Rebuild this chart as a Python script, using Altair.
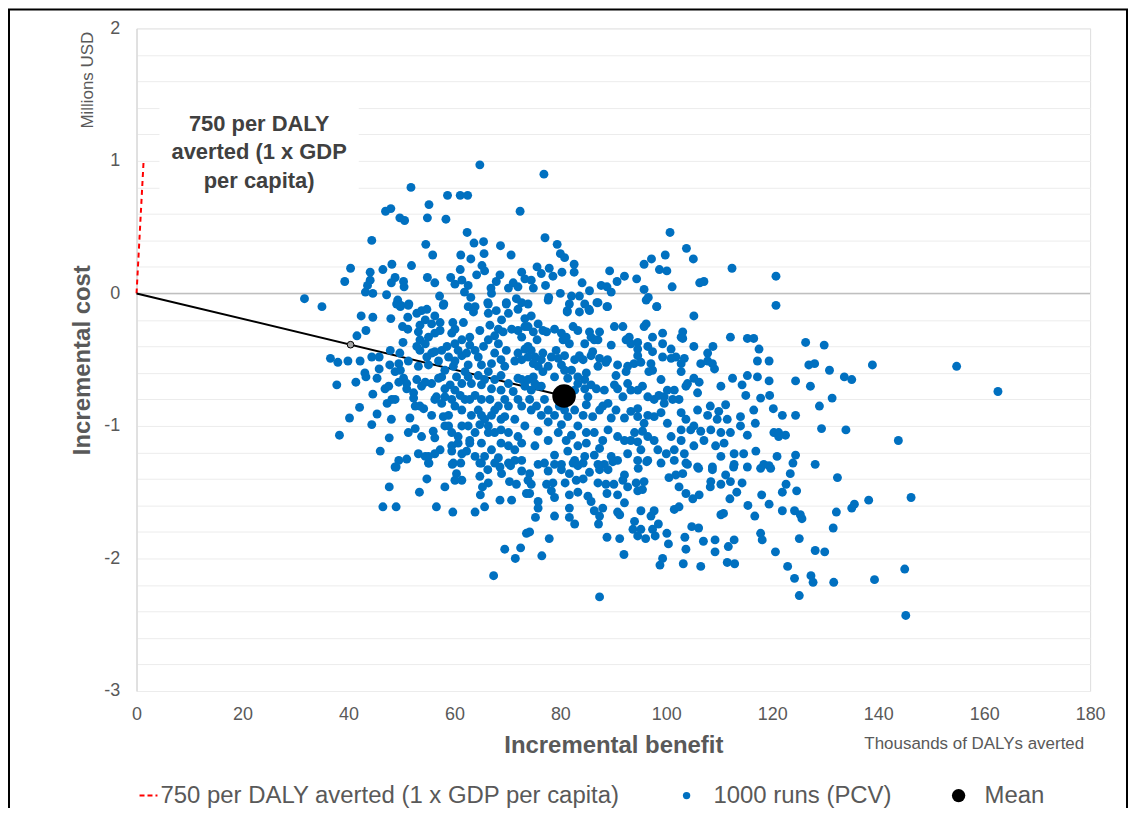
import altair as alt
import pandas as pd

# ---- data (benefit: thousands of DALYs averted, cost: millions USD) ----
runs_points = [
    # upper band
    [64.8, 0.97], [51.8, 0.80], [58.7, 0.74], [61.1, 0.74], [62.5, 0.74], [55.2, 0.67], [47.0, 0.62],
    [48.0, 0.64], [54.9, 0.57], [58.4, 0.56], [49.7, 0.57], [50.6, 0.55], [72.4, 0.62], [62.4, 0.46],
    [44.4, 0.40], [54.6, 0.37], [55.9, 0.29], [63.7, 0.38], [65.5, 0.39], [68.7, 0.36], [65.6, 0.30],
    [61.2, 0.29], [63.1, 0.26], [70.7, 0.29], [40.4, 0.19], [39.3, 0.09], [44.1, 0.16], [46.5, 0.18],
    [48.2, 0.22], [51.9, 0.21], [48.8, 0.12], [48.1, 0.08], [50.4, 0.09], [50.5, 0.05], [44.1, 0.10],
    [43.6, 0.06], [43.2, 0.01], [44.6, 0.00], [47.2, -0.01], [54.9, 0.12], [56.3, 0.08], [61.1, 0.18],
    [64.2, 0.14], [65.2, 0.21], [65.7, 0.17], [59.3, 0.12], [60.1, 0.07], [61.4, 0.10], [62.6, 0.06],
    [61.9, 0.01], [68.6, 0.14], [67.9, 0.09], [66.9, 0.04], [67.0, 0.00], [70.2, 0.04], [71.1, 0.08],
    [72.0, 0.05], [72.7, 0.16], [73.3, 0.11], [31.7, -0.04], [35.0, -0.10], [49.3, -0.05], [49.9, -0.09],
    [51.4, -0.08], [57.2, -0.02], [58.0, -0.08], [63.1, -0.03], [66.3, -0.07], [69.8, -0.07], [71.7, -0.04],
    [76.9, 0.90], [77.1, 0.42], [79.4, 0.37], [80.0, 0.30], [80.8, 0.27], [82.6, 0.22], [82.6, 0.16],
    [75.6, 0.20], [77.9, 0.19], [76.4, 0.15], [78.6, 0.13], [80.3, 0.16], [74.5, 0.10], [74.9, 0.04],
    [77.2, 0.06], [77.8, -0.03], [80.0, 0.00], [82.1, -0.02], [83.6, -0.02], [84.1, 0.08], [85.5, 0.02],
    [86.9, -0.07], [87.7, 0.06], [88.8, 0.05], [89.6, 0.01], [89.3, 0.17], [90.7, 0.09], [92.1, 0.13],
    [88.8, -0.10], [85.4, -0.12], [81.3, -0.13], [94.4, 0.11], [95.8, 0.22], [97.2, 0.26], [95.8, 0.03],
    [96.6, -0.03], [98.2, -0.10], [98.7, 0.18], [100.1, 0.17], [99.8, 0.29], [100.7, 0.46], [101.1, 0.05],
    [103.8, 0.34], [105.1, 0.26], [106.3, 0.08], [107.1, 0.09], [112.4, 0.19], [120.7, 0.13], [120.7, -0.09],
    # right side
    [126.3, -0.37], [129.8, -0.39], [119.4, -0.51], [126.9, -0.54], [128.0, -0.53], [130.8, -0.58],
    [138.9, -0.54], [154.8, -0.55], [162.6, -0.74], [119.4, -0.66], [124.4, -0.66], [127.2, -0.70],
    [133.6, -0.63], [135.0, -0.65], [119.5, -0.77], [131.3, -0.79], [128.9, -0.85], [120.2, -0.87],
    [121.9, -0.92], [124.4, -0.92], [129.3, -1.02], [133.9, -1.03], [143.8, -1.11], [120.3, -1.05],
    [121.2, -1.05], [122.5, -1.07], [121.2, -1.08], [120.9, -1.23], [124.4, -1.22], [123.9, -1.28],
    [128.1, -1.29], [119.4, -1.30],
    # left-centre
    [42.4, -0.17], [44.6, -0.18], [43.3, -0.28], [41.6, -0.32], [48.0, -0.19], [50.2, -0.25], [51.2, -0.27],
    [49.1, -0.08], [51.3, -0.09], [51.2, -0.18], [53.8, -0.13], [54.5, -0.20], [56.3, -0.17], [57.3, -0.22],
    [57.9, -0.09], [59.7, -0.22], [61.7, -0.22], [62.6, -0.10], [63.6, -0.14], [66.4, -0.08], [66.4, -0.15],
    [67.9, -0.13], [66.7, -0.24], [68.3, -0.27], [70.2, -0.15], [72.0, -0.12], [73.3, -0.19], [70.8, -0.27],
    [72.7, -0.33], [50.3, -0.37], [47.9, -0.43], [49.7, -0.45], [53.5, -0.35], [55.1, -0.33], [53.5, -0.43],
    [55.7, -0.45], [57.3, -0.28], [59.5, -0.30], [61.4, -0.35], [62.9, -0.39], [60.1, -0.38], [57.6, -0.43],
    [58.9, -0.48], [61.4, -0.47], [64.5, -0.48], [66.4, -0.35], [68.3, -0.38], [67.0, -0.53], [69.8, -0.43],
    [72.0, -0.45], [73.3, -0.42], [36.6, -0.49], [38.0, -0.52], [39.9, -0.51], [42.2, -0.51], [44.4, -0.48],
    [45.8, -0.48], [45.8, -0.57], [43.1, -0.60], [43.3, -0.63], [37.8, -0.69], [41.4, -0.67], [45.4, -0.64],
    [47.8, -0.54], [49.5, -0.53], [49.8, -0.58], [50.4, -0.64], [53.2, -0.55], [55.1, -0.54], [52.9, -0.65],
    [54.5, -0.67], [51.0, -0.72], [46.9, -0.72], [44.6, -0.76], [47.6, -0.70], [52.3, -0.75], [57.0, -0.64],
    [58.2, -0.58], [59.8, -0.55], [60.4, -0.63], [62.0, -0.59], [63.2, -0.68], [65.1, -0.69], [66.4, -0.59],
    [67.6, -0.65], [68.8, -0.62], [70.2, -0.68], [72.0, -0.64], [73.3, -0.70], [58.2, -0.72], [60.1, -0.73],
    [56.3, -0.80], [57.6, -0.83], [59.5, -0.80], [62.0, -0.80], [63.9, -0.77], [48.2, -0.80], [47.3, -0.83],
    [48.8, -0.80], [42.1, -0.86], [45.4, -0.91], [40.2, -0.94], [44.4, -0.99], [48.1, -0.95], [51.6, -0.94],
    [52.6, -0.85], [54.2, -0.87], [55.7, -0.92], [57.9, -0.93], [52.6, -1.02], [51.3, -1.05], [53.8, -1.08],
    [56.0, -1.04], [58.9, -1.00], [59.5, -1.05], [61.4, -1.00], [63.2, -0.92], [64.5, -0.88], [65.7, -0.95],
    [67.6, -0.88], [69.5, -0.80], [69.5, -0.93], [71.4, -0.95], [72.7, -0.85], [73.3, -1.00], [68.8, -1.03],
    [66.4, -1.05], [63.9, -1.05], [38.3, -1.07], [47.7, -1.09], [46.0, -1.19], [49.5, -1.26], [51.0, -1.25],
    [48.8, -1.31], [53.2, -1.21], [55.1, -1.23], [55.1, -1.28], [57.3, -1.18], [59.5, -1.15], [60.7, -1.13],
    [61.4, -1.21], [59.8, -1.28], [62.9, -1.13], [63.9, -1.23], [65.1, -1.28], [67.0, -1.18], [68.3, -1.24],
    [70.2, -1.28], [71.4, -1.18], [72.7, -1.26], [72.7, -1.13],
    [52.9, -0.15], [54.8, -0.12], [49.8, -0.10], [63.9, -0.10], [68.9, -0.20], [72.7, -0.07], [69.8, -0.08],
    [53.5, -0.24], [55.7, -0.23], [53.2, -0.29], [56.3, -0.30], [60.1, -0.27], [62.9, -0.33], [64.8, -0.28],
    [67.6, -0.32], [69.2, -0.29], [72.0, -0.28], [73.3, -0.25], [52.9, -0.40], [54.5, -0.38], [56.3, -0.44],
    [58.6, -0.40], [60.7, -0.43], [62.3, -0.45], [63.9, -0.43], [65.5, -0.40], [67.6, -0.45], [68.8, -0.50],
    [71.4, -0.51], [72.7, -0.50], [57.0, -0.51], [60.1, -0.51], [62.6, -0.54], [65.1, -0.54], [69.5, -0.55],
    [51.3, -0.51], [54.8, -0.48], [51.0, -0.68], [53.8, -0.70], [55.7, -0.68], [57.6, -0.63], [59.2, -0.69],
    [61.4, -0.68], [62.6, -0.63], [64.5, -0.62], [65.7, -0.65], [67.0, -0.72], [68.8, -0.73], [71.1, -0.74],
    [72.7, -0.65], [48.8, -0.59], [49.5, -0.67], [56.6, -0.78], [58.2, -0.78], [61.1, -0.77], [62.9, -0.80],
    [65.1, -0.80], [66.7, -0.80], [68.3, -0.85], [70.2, -0.85], [72.0, -0.80], [60.1, -0.85], [61.4, -0.88],
    [58.9, -0.92], [65.1, -0.92], [67.0, -0.92], [68.8, -0.95], [52.3, -0.79], [53.5, -0.85], [58.2, -1.00],
    [62.6, -1.00], [64.8, -0.99], [66.4, -1.00], [67.6, -1.05], [70.2, -1.05], [72.0, -1.08], [60.7, -1.08],
    [62.9, -1.11], [65.1, -1.13], [68.8, -1.13], [70.2, -1.15], [56.3, -1.09], [59.5, -1.19], [62.3, -1.19],
    [65.7, -1.23], [67.6, -1.28], [71.4, -1.26], [56.3, -1.21], [54.5, -1.23],
    # centre
    [74.5, -0.17], [75.8, -0.23], [76.7, -0.28], [77.7, -0.05], [81.3, -0.14], [83.6, -0.14], [85.5, -0.13],
    [87.1, -0.07], [88.9, -0.10], [98.2, -0.10], [105.2, -0.17], [78.9, -0.27], [82.4, -0.25], [83.3, -0.28],
    [85.5, -0.29], [90.2, -0.25], [91.8, -0.25], [92.4, -0.35], [95.8, -0.25], [97.4, -0.33], [99.3, -0.30],
    [99.3, -0.38], [103.1, -0.29], [103.1, -0.34], [112.1, -0.33], [115.3, -0.34], [116.5, -0.34],
    [75.6, -0.35], [80.5, -0.35], [81.7, -0.38], [84.6, -0.38], [86.4, -0.35], [89.6, -0.39], [93.3, -0.38],
    [94.6, -0.42], [96.5, -0.40], [105.2, -0.40], [108.8, -0.40], [117.5, -0.42], [74.5, -0.43], [76.7, -0.45],
    [79.2, -0.43], [83.6, -0.47], [86.1, -0.44], [87.4, -0.49], [88.9, -0.50], [94.6, -0.47], [97.4, -0.44],
    [99.3, -0.48], [100.9, -0.42], [101.8, -0.48], [102.8, -0.53], [106.5, -0.53], [107.8, -0.45],
    [108.7, -0.53], [109.1, -0.57], [117.2, -0.51], [74.9, -0.53], [77.7, -0.55], [80.2, -0.54], [82.1, -0.58],
    [84.9, -0.60], [88.6, -0.52], [90.5, -0.62], [92.7, -0.55], [93.9, -0.53], [97.1, -0.53], [97.4, -0.58],
    [102.8, -0.59], [105.2, -0.64], [106.2, -0.67], [110.3, -0.70], [112.5, -0.64], [114.3, -0.69],
    [115.3, -0.62], [117.2, -0.63], [115.0, -0.77], [117.8, -0.79], [74.9, -0.63], [75.8, -0.70], [77.0, -0.80],
    [75.5, -0.85], [84.6, -0.65], [86.8, -0.72], [85.2, -0.78], [89.0, -0.83], [90.8, -0.72], [92.7, -0.68],
    [93.3, -0.73], [95.5, -0.70], [97.7, -0.80], [98.6, -0.77], [99.6, -0.83], [101.5, -0.73], [101.2, -0.80],
    [103.7, -0.70], [102.8, -0.90], [105.9, -0.88], [108.3, -0.85], [109.9, -0.89], [111.2, -0.84],
    [111.5, -0.95], [109.6, -0.95], [116.5, -0.88], [116.8, -0.98], [114.0, -1.00], [79.8, -0.85], [82.7, -0.88],
    [84.9, -0.84], [87.4, -0.88], [89.6, -0.94], [93.3, -0.89], [94.6, -0.87], [95.8, -0.98], [97.7, -0.93],
    [77.7, -0.97], [80.2, -0.99], [83.3, -1.00], [86.4, -1.05], [82.1, -1.07], [89.0, -1.03], [92.1, -1.11],
    [94.0, -1.05], [95.5, -1.04], [96.5, -1.08], [100.9, -1.08], [102.8, -1.03], [104.6, -1.03], [106.5, -1.04],
    [108.4, -1.03], [110.3, -1.05], [112.1, -1.05], [115.3, -1.07], [109.3, -1.15], [112.8, -1.21],
    [116.9, -1.19], [118.4, -1.29], [77.7, -1.11], [75.2, -1.15], [81.4, -1.19], [83.3, -1.15], [84.9, -1.13],
    [87.4, -1.17], [89.6, -1.23], [93.3, -1.11], [95.2, -1.18], [98.4, -1.18], [100.0, -1.21], [101.5, -1.18],
    [103.4, -1.21], [105.2, -1.15], [77.0, -1.28], [80.2, -1.29], [84.6, -1.23], [88.3, -1.29], [96.5, -1.26],
    [103.7, -1.28], [105.9, -1.31], [108.7, -1.31], [112.8, -1.29], [115.3, -1.31],
    [73.9, -0.40], [75.2, -0.48], [76.4, -0.50], [78.3, -0.48], [79.6, -0.49], [80.8, -0.47], [76.7, -0.59],
    [78.9, -0.63], [81.4, -0.64], [83.3, -0.68], [74.5, -0.73], [74.2, -0.80], [77.7, -0.88], [78.9, -0.92],
    [80.8, -0.80], [82.7, -0.73], [76.4, -0.70],
    [73.9, -0.08], [81.7, -0.08], [84.6, -0.08], [96.2, -0.05], [73.9, -0.25], [74.9, -0.29], [77.4, -0.29],
    [80.2, -0.30], [81.1, -0.33], [85.8, -0.33], [87.1, -0.35], [87.4, -0.29], [93.0, -0.33], [94.6, -0.37],
    [96.2, -0.23], [102.8, -0.33], [73.9, -0.48], [75.8, -0.55], [80.8, -0.58], [82.7, -0.50], [84.3, -0.50],
    [85.8, -0.47], [87.1, -0.55], [90.8, -0.54], [92.4, -0.59], [95.2, -0.52], [96.7, -0.59], [99.0, -0.65],
    [100.9, -0.49], [103.4, -0.49], [107.8, -0.51], [73.9, -0.65], [75.2, -0.68], [83.3, -0.63], [84.6, -0.72],
    [85.8, -0.69], [88.3, -0.73], [90.2, -0.69], [91.8, -0.78], [94.6, -0.73], [96.5, -0.78], [99.6, -0.78],
    [100.2, -0.73], [102.4, -0.80], [104.0, -0.68], [105.9, -0.75], [74.5, -0.88], [76.4, -0.92], [80.8, -0.88],
    [81.4, -0.93], [84.3, -0.92], [86.1, -0.93], [88.0, -0.85], [90.5, -0.88], [92.1, -0.94], [94.6, -0.93],
    [96.5, -0.92], [99.0, -0.90], [100.2, -0.98], [103.7, -0.95], [105.2, -1.00], [107.8, -0.92], [114.0, -0.93],
    [75.8, -1.04], [79.6, -1.05], [81.1, -1.11], [84.9, -1.05], [88.0, -1.11], [90.8, -1.08], [94.6, -1.12],
    [97.7, -1.11], [102.8, -1.11], [107.1, -1.11], [110.9, -1.13], [78.9, -1.22], [82.7, -1.26], [86.4, -1.22],
    [90.8, -1.26], [92.7, -1.21], [94.6, -1.26], [99.0, -1.28], [101.5, -1.26], [110.3, -1.23], [114.6, -1.21],
    # lower left
    [49.0, -1.31], [55.2, -1.28], [47.7, -1.46], [54.8, -1.40], [53.4, -1.50], [46.5, -1.61], [49.0, -1.61],
    [56.6, -1.61], [58.2, -1.46], [59.7, -1.65], [59.6, -1.29], [61.2, -1.28], [60.4, -1.36], [60.1, -1.41],
    [61.4, -1.41], [63.9, -1.65], [65.7, -1.61], [64.8, -1.28], [64.8, -1.38], [66.3, -1.33], [66.4, -1.43],
    [65.3, -1.46], [64.9, -1.52], [68.6, -1.31], [68.9, -1.36], [70.6, -1.30], [70.4, -1.42], [71.7, -1.44],
    [68.6, -1.56], [70.8, -1.56], [72.7, -1.34], [73.6, -1.51], [73.6, -1.81], [69.5, -1.93], [72.5, -1.92],
    [71.5, -2.00], [67.4, -2.13],
    # lower centre
    [75.8, -1.29], [78.9, -1.29], [82.4, -1.28], [94.7, -1.32], [96.3, -1.27], [106.1, -1.32], [108.7, -1.33],
    [117.8, -1.32], [74.2, -1.36], [74.5, -1.44], [74.2, -1.51], [77.4, -1.44], [78.6, -1.43], [78.3, -1.49],
    [78.9, -1.54], [80.9, -1.43], [81.7, -1.36], [83.0, -1.41], [84.3, -1.40], [81.7, -1.52], [83.3, -1.50],
    [85.5, -1.35], [87.4, -1.33], [89.0, -1.33], [87.1, -1.43], [88.6, -1.44], [90.1, -1.44], [88.8, -1.51],
    [90.8, -1.52], [92.1, -1.37], [92.7, -1.46], [94.3, -1.43], [95.8, -1.42], [94.6, -1.49], [95.5, -1.48],
    [92.1, -1.58], [85.2, -1.53], [85.8, -1.57], [75.8, -1.57], [75.8, -1.62], [75.3, -1.69], [78.9, -1.68],
    [81.7, -1.62], [81.7, -1.69], [82.7, -1.74], [86.4, -1.64], [88.0, -1.62], [87.4, -1.68], [87.2, -1.74],
    [90.8, -1.65], [91.2, -1.67], [74.2, -1.80], [77.9, -1.85], [76.5, -1.98], [88.8, -1.84], [91.2, -1.85],
    [92.0, -1.97], [87.4, -2.29], [95.2, -1.64], [94.0, -1.72], [93.7, -1.78], [95.2, -1.78], [94.6, -1.83],
    [96.1, -1.85], [97.1, -1.68], [97.7, -1.64], [98.5, -1.74], [97.4, -1.78], [97.9, -1.83], [100.1, -1.81],
    [100.4, -1.89], [99.3, -2.00], [98.8, -2.05], [100.5, -1.39], [101.8, -1.37], [103.1, -1.36], [104.0, -1.29],
    [102.4, -1.46], [103.7, -1.51], [105.0, -1.55], [106.2, -1.52], [101.5, -1.63], [102.4, -1.61],
    [104.8, -1.76], [106.1, -1.77], [103.5, -1.84], [103.7, -1.93], [103.2, -2.04], [106.5, -2.06],
    [107.0, -1.87], [109.2, -1.86], [109.2, -1.95], [111.7, -1.91], [112.8, -1.86], [111.5, -2.03],
    [112.9, -2.04], [108.3, -1.46], [108.4, -1.42], [110.3, -1.44], [111.2, -1.37], [112.1, -1.42],
    [114.3, -1.43], [113.3, -1.50], [112.0, -1.55], [110.3, -1.67], [110.8, -1.66], [115.4, -1.60],
    [116.7, -1.68], [118.0, -1.52], [117.8, -1.81], [118.1, -1.86], [112.7, -1.31],
    [73.9, -1.41], [77.7, -1.34], [80.2, -1.33], [83.3, -1.30], [84.3, -1.28], [87.1, -1.29], [89.9, -1.27],
    [91.8, -1.41],
    # lower right
    [119.7, -1.32], [123.4, -1.36], [132.3, -1.39], [122.6, -1.44], [121.9, -1.50], [124.6, -1.49],
    [119.4, -1.59], [121.9, -1.64], [124.2, -1.64], [125.3, -1.67], [125.6, -1.70], [132.1, -1.65],
    [135.0, -1.62], [135.5, -1.59], [138.2, -1.56], [146.2, -1.54], [131.5, -1.77], [125.1, -1.85],
    [120.6, -1.95], [128.1, -1.94], [129.9, -1.95], [122.9, -2.06], [124.2, -2.15], [127.3, -2.13],
    [127.7, -2.18], [131.6, -2.18], [139.3, -2.16], [145.0, -2.08], [125.1, -2.28], [145.2, -2.43],
]
runs_benefit = [p[0] for p in runs_points]
runs_cost = [p[1] for p in runs_points]

mean_benefit = [80.7]
mean_cost = [-0.774]
threshold_benefit = [0.0, 1.333]   # 750 USD per DALY averted
threshold_cost = [0.0, 1.0]
icer_benefit = [0.0, 80.7]
icer_cost = [0.0, -0.774]
half_benefit = [40.4]
half_cost = [-0.387]

x_ticks = [0, 20, 40, 60, 80, 100, 120, 140, 160, 180]
y_grid = [-3.0, -2.8, -2.6, -2.4, -2.2, -2.0, -1.8, -1.6, -1.4, -1.2, -1.0, -0.8, -0.6, -0.4, -0.2,
          0.0, 0.2, 0.4, 0.6, 0.8, 1.0, 1.2, 1.4, 1.6, 1.8, 2.0]

annotation_lines = ["750 per DALY", "averted (1 x GDP", "per capita)"]
legend_labels = ["750 per DALY averted (1 x GDP per capita)", "1000 runs (PCV)", "Mean"]

GRAY = "#595959"
BLUE = "#0070C0"
FONT = "Liberation Sans"

runs_df = pd.DataFrame({"benefit": runs_benefit, "cost": runs_cost})
mean_df = pd.DataFrame({"benefit": mean_benefit, "cost": mean_cost})
thr_df = pd.DataFrame({"benefit": threshold_benefit, "cost": threshold_cost})
icer_df = pd.DataFrame({"benefit": icer_benefit, "cost": icer_cost})
half_df = pd.DataFrame({"benefit": half_benefit, "cost": half_cost})
zero_df = pd.DataFrame({"cost": [0.0]})
one_df = pd.DataFrame({"a": [0]})

xs = alt.Scale(domain=[0, 180], nice=False, zero=False)
ys = alt.Scale(domain=[-3, 2], nice=False, zero=False)

x_axis = alt.Axis(values=x_ticks, tickCount=20, title="Incremental benefit", grid=False, domain=False,
                  ticks=False, labelFlush=False, labelOverlap=False,
                  labelFontSize=18, labelColor=GRAY, labelPadding=15, labelFont=FONT,
                  titleFont=FONT, titleFontSize=24, titleFontWeight="bold", titleColor=GRAY,
                  titleY=55, titleBaseline="middle")
y_axis = alt.Axis(values=y_grid, tickCount=40, title="Incremental cost", grid=True, gridColor="#ececec",
                  gridWidth=1, domain=True, domainColor="#d4d4d4", domainWidth=1, ticks=False,
                  labelOverlap=False, labelFlush=False,
                  labelExpr="abs(datum.value - round(datum.value)) < 0.001 ? '' + round(datum.value) : ''",
                  labelFontSize=18, labelColor=GRAY, labelPadding=17, labelFont=FONT,
                  titleFont=FONT, titleFontSize=24, titleFontWeight="bold", titleColor=GRAY,
                  titleAngle=270, titleX=-54, titleY=332.5, titleAlign="center", titleBaseline="middle")

base_axes = alt.Chart(runs_df).mark_point(opacity=0).encode(
    x=alt.X("benefit:Q", scale=xs, axis=x_axis), y=alt.Y("cost:Q", scale=ys, axis=y_axis))

frame = alt.Chart(one_df).mark_rect(filled=False, stroke="black", strokeWidth=2).encode(
    x=alt.value(-128), x2=alt.value(994), y=alt.value(-19), y2=alt.value(900))

note_box = alt.Chart(one_df).mark_rect(color="white").encode(
    x=alt.value(23), x2=alt.value(223), y=alt.value(68), y2=alt.value(173))

zero_line = alt.Chart(zero_df).mark_rule(color="#bfbfbf", strokeWidth=1.5).encode(y=alt.Y("cost:Q", scale=ys))

thr_line = alt.Chart(thr_df).mark_line(color="red", strokeDash=[5, 4], strokeWidth=2).encode(
    x=alt.X("benefit:Q", scale=xs), y=alt.Y("cost:Q", scale=ys))

icer_line = alt.Chart(icer_df).mark_line(color="black", strokeWidth=2).encode(
    x=alt.X("benefit:Q", scale=xs), y=alt.Y("cost:Q", scale=ys))

runs = alt.Chart(runs_df).mark_circle(size=80, color=BLUE, opacity=1).encode(
    x=alt.X("benefit:Q", scale=xs), y=alt.Y("cost:Q", scale=ys))

half_pt = alt.Chart(half_df).mark_point(filled=True, fill="#a6a6a6", stroke="black", strokeWidth=1,
                                         size=45, shape="circle", opacity=1).encode(
    x=alt.X("benefit:Q", scale=xs), y=alt.Y("cost:Q", scale=ys))

mean_pt = alt.Chart(mean_df).mark_circle(size=560, color="black", opacity=1).encode(
    x=alt.X("benefit:Q", scale=xs), y=alt.Y("cost:Q", scale=ys))

note_df = pd.DataFrame({"t": annotation_lines, "py": [96, 124, 153]})
note = alt.Chart(note_df).mark_text(font=FONT, fontSize=22, fontWeight="bold", color="#404040",
                                    align="center", baseline="middle").encode(
    text="t:N", x=alt.value(123), y=alt.Y("py:Q", scale=None))

millions = alt.Chart(one_df).mark_text(text="Millions USD", font=FONT, fontSize=17, color=GRAY,
                                       angle=270, align="center", baseline="middle").encode(
    x=alt.value(-49), y=alt.value(52))

thousands = alt.Chart(one_df).mark_text(text="Thousands of DALYs averted", font=FONT, fontSize=17,
                                        color=GRAY, align="right", baseline="middle").encode(
    x=alt.value(951), y=alt.value(718))

LY = 770
leg_line = alt.Chart(one_df).mark_rule(color="red", strokeDash=[5, 3], strokeWidth=2).encode(
    x=alt.value(3), x2=alt.value(21), y=alt.value(LY))
leg_blue = alt.Chart(one_df).mark_circle(size=55, color=BLUE, opacity=1).encode(
    x=alt.value(552), y=alt.value(LY))
leg_mean = alt.Chart(one_df).mark_circle(size=180, color="black", opacity=1).encode(
    x=alt.value(825), y=alt.value(LY))
leg_text_df = pd.DataFrame({"t": legend_labels, "px": [24, 579, 851]})
leg_text = alt.Chart(leg_text_df).mark_text(font=FONT, fontSize=24, color=GRAY, align="left",
                                            baseline="middle").encode(
    text="t:N", x=alt.X("px:Q", scale=None), y=alt.value(LY))

chart = alt.layer(
    base_axes, frame, note_box, zero_line, thr_line, icer_line, runs, half_pt, mean_pt,
    note, millions, thousands, leg_line, leg_blue, leg_mean, leg_text
).properties(
    width=957, height=665,
    padding={"left": 129, "top": 19, "right": 38, "bottom": 116},
    autosize=alt.AutoSizeParams(type="none"),
).configure_view(stroke=None).configure(font=FONT)

chart.save("out.html", embed_options={"renderer": "svg", "actions": False})
